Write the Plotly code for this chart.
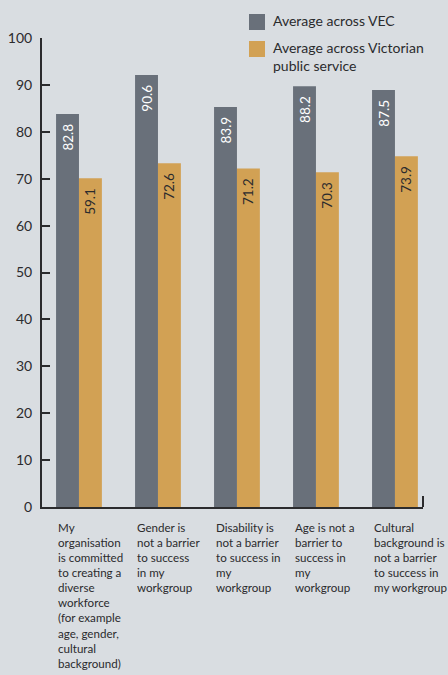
import plotly.graph_objects as go

categories = [
    "My<br>organisation<br>is committed<br>to creating a<br>diverse<br>workforce<br>(for example<br>age, gender,<br>cultural<br>background)",
    "Gender is<br>not a barrier<br>to success<br>in my<br>workgroup",
    "Disability is<br>not a barrier<br>to success in<br>my<br>workgroup",
    "Age is not a<br>barrier to<br>success in<br>my<br>workgroup",
    "Cultural<br>background is<br>not a barrier<br>to success in<br>my workgroup",
]
series_names = ["Average across VEC", "Average across Victorian<br>public service"]
vec_values = [83.8, 92.1, 85.3, 89.7, 88.9]
vps_values = [70.1, 73.3, 72.2, 71.4, 74.8]
vec_labels = ["82.8", "90.6", "83.9", "88.2", "87.5"]
vps_labels = ["59.1", "72.6", "71.2", "70.3", "73.9"]
y_ticks = [0, 10, 20, 30, 40, 50, 60, 70, 80, 90, 100]

BG = "#d9dde1"
GRAY = "#69707a"
ORANGE = "#d2a154"
INK = "#2b2b2d"
FONT = "Lato"

x = list(range(len(categories)))

fig = go.Figure()
fig.add_trace(go.Bar(
    x=x, y=vec_values, text=vec_labels, name=series_names[0],
    texttemplate="%{text}\u00a0\u00a0",
    marker=dict(color=GRAY, line=dict(width=0)),
    textposition="inside", insidetextanchor="end", textangle=-90,
    textfont=dict(color="white", size=13.5, family=FONT),
    constraintext="none", cliponaxis=False,
))
fig.add_trace(go.Bar(
    x=x, y=vps_values, text=vps_labels, name=series_names[1],
    texttemplate="%{text}\u00a0\u00a0",
    marker=dict(color=ORANGE, line=dict(width=0)),
    textposition="inside", insidetextanchor="end", textangle=-90,
    textfont=dict(color=INK, size=13.5, family=FONT),
    constraintext="none", cliponaxis=False,
))

# category labels
for i, c in enumerate(categories):
    fig.add_annotation(
        x=i - 0.29, y=0, xref="x", yref="paper", yanchor="top", xanchor="left",
        yshift=-12, text=c, showarrow=False, align="left",
        font=dict(family=FONT, size=11.6, color=INK),
    )

# legend (manual)
colors = [GRAY, ORANGE]
W, H = 448, 675
ml, mr, mt, mb = 42, 25, 38, 168
pw, ph = W - ml - mr, H - mt - mb
def px2paper_x(px):
    return (px - ml) / pw
def px2paper_y(py):
    return (H - mb - py) / ph
for k, (nm, col) in enumerate(zip(series_names, colors)):
    top = 14 + k * 27
    fig.add_shape(type="rect", xref="paper", yref="paper",
                  x0=px2paper_x(249), x1=px2paper_x(265),
                  y0=px2paper_y(top + 16), y1=px2paper_y(top),
                  fillcolor=col, line=dict(width=0))
    fig.add_annotation(x=px2paper_x(271), y=px2paper_y(top - 4), xref="paper", yref="paper",
                       xanchor="left", yanchor="top", align="left", showarrow=False,
                       text=nm, font=dict(family=FONT, size=14, color=INK))

# right-end stub of x axis
fig.add_shape(type="line", xref="paper", yref="paper", x0=1, x1=1,
              y0=0, y1=px2paper_y(496), line=dict(color=INK, width=2))

fig.update_layout(
    width=W, height=H,
    margin=dict(l=ml, r=mr, t=mt, b=mb, autoexpand=False),
    paper_bgcolor=BG, plot_bgcolor=BG,
    barmode="group", bargap=0.42, bargroupgap=0,
    showlegend=False,
    font=dict(family=FONT, color=INK),
    uniformtext=dict(mode=False),
)
fig.update_xaxes(range=[-0.468, 4.355], showticklabels=False, ticks="", automargin=False,
                 showline=True, linecolor=INK, linewidth=2, showgrid=False, zeroline=False)
fig.update_yaxes(range=[0, 100], tickvals=y_ticks, ticks="inside", ticklen=8, tickwidth=2,
                 tickcolor=INK, showline=True, linecolor=INK, linewidth=2, showgrid=False,
                 zeroline=False, ticklabelstandoff=5, automargin=False,
                 tickfont=dict(family=FONT, size=14, color=INK))

fig.write_html("out.html")
